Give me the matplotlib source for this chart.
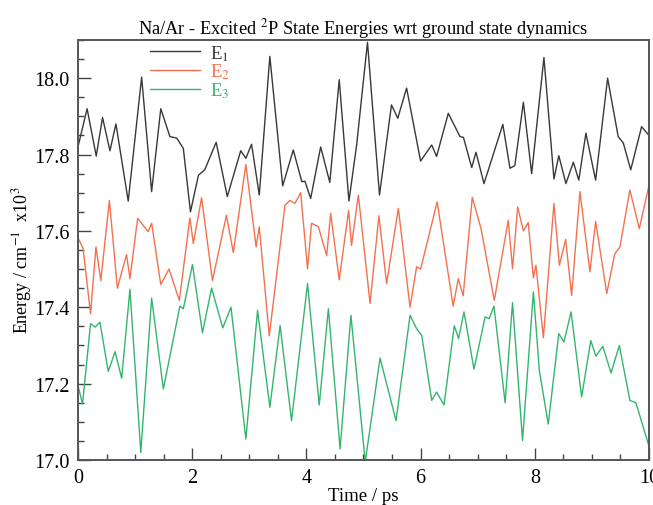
import matplotlib
matplotlib.use('Agg')
import matplotlib.pyplot as plt
from matplotlib.ticker import MultipleLocator

plt.rcParams['font.family'] = ['Liberation Serif', 'DejaVu Serif']
plt.rcParams['mathtext.fontset'] = 'stix'

# E1 (black)
t1 = [0.0, 0.16, 0.32, 0.43, 0.56, 0.665, 0.88, 1.115, 1.29, 1.45, 1.61, 1.73, 1.845, 1.97,
      2.11, 2.22, 2.42, 2.615, 2.85, 2.94, 3.04, 3.175, 3.36, 3.585, 3.77, 3.92, 3.975, 4.075,
      4.25, 4.41, 4.575, 4.745, 4.88, 5.07, 5.28, 5.49, 5.60, 5.755, 6.0, 6.195, 6.28, 6.485,
      6.69, 6.75, 6.895, 6.97, 7.11, 7.44, 7.565, 7.65, 7.80, 7.945, 8.16, 8.335, 8.42, 8.545,
      8.675, 8.77, 8.895, 9.065, 9.275, 9.46, 9.55, 9.68, 9.87, 10.0]
e1 = [17.82, 17.92, 17.796, 17.897, 17.81, 17.88, 17.678, 18.003, 17.703, 17.92, 17.847, 17.843,
      17.816, 17.65, 17.746, 17.76, 17.832, 17.69, 17.81, 17.79, 17.827, 17.694, 18.057, 17.718,
      17.812, 17.729, 17.73, 17.685, 17.82, 17.727, 17.996, 17.678, 17.825, 18.094, 17.694, 17.93,
      17.895, 17.974, 17.783, 17.825, 17.795, 17.908, 17.847, 17.845, 17.766, 17.806, 17.724,
      17.879, 17.764, 17.771, 17.937, 17.75, 18.054, 17.736, 17.797, 17.724, 17.78, 17.733,
      17.856, 17.733, 18.0, 17.847, 17.83, 17.76, 17.873, 17.85]

# E2 (red)
t2 = [0.0, 0.09, 0.22, 0.315, 0.40, 0.55, 0.69, 0.85, 0.91, 1.045, 1.23, 1.29, 1.45, 1.595,
      1.775, 1.96, 2.02, 2.165, 2.355, 2.60, 2.72, 2.94, 3.12, 3.175, 3.35, 3.625, 3.71, 3.80,
      3.90, 4.02, 4.09, 4.21, 4.355, 4.425, 4.575, 4.74, 4.79, 4.91, 5.115, 5.27, 5.405, 5.61,
      5.815, 5.93, 6.0, 6.29, 6.57, 6.66, 6.745, 6.905, 7.06, 7.29, 7.535, 7.61, 7.70, 7.80,
      7.885, 7.975, 8.02, 8.15, 8.335, 8.43, 8.54, 8.645, 8.79, 8.965, 9.065, 9.26, 9.40, 9.49,
      9.665, 9.83, 10.0]
e2 = [17.582, 17.554, 17.383, 17.558, 17.47, 17.68, 17.45, 17.538, 17.475, 17.633, 17.598, 17.62,
      17.46, 17.50, 17.418, 17.634, 17.567, 17.687, 17.47, 17.641, 17.543, 17.774, 17.558, 17.611,
      17.325, 17.667, 17.68, 17.672, 17.70, 17.501, 17.62, 17.611, 17.535, 17.646, 17.472, 17.654,
      17.562, 17.694, 17.41, 17.64, 17.462, 17.659, 17.40, 17.506, 17.50, 17.676, 17.403, 17.475,
      17.43, 17.688, 17.605, 17.418, 17.628, 17.501, 17.663, 17.60, 17.622, 17.477, 17.51, 17.32,
      17.672, 17.51, 17.578, 17.431, 17.703, 17.493, 17.625, 17.436, 17.54, 17.558, 17.707,
      17.606, 17.72]

# E3 (green)
t3 = [0.0, 0.08, 0.22, 0.30, 0.385, 0.53, 0.65, 0.765, 0.91, 1.10, 1.29, 1.495, 1.785, 1.845,
      2.005, 2.18, 2.34, 2.535, 2.68, 2.94, 3.145, 3.36, 3.54, 3.74, 4.02, 4.225, 4.385, 4.59,
      4.78, 5.03, 5.29, 5.57, 5.815, 5.93, 6.02, 6.195, 6.28, 6.41, 6.59, 6.665, 6.76, 6.935,
      7.13, 7.20, 7.285, 7.48, 7.61, 7.785, 7.975, 8.08, 8.235, 8.42, 8.51, 8.635, 8.82, 8.98,
      9.07, 9.19, 9.335, 9.48, 9.665, 9.77, 10.0]
e3 = [17.195, 17.147, 17.357, 17.348, 17.361, 17.232, 17.284, 17.214, 17.447, 17.02, 17.424,
      17.186, 17.403, 17.396, 17.512, 17.333, 17.45, 17.346, 17.40, 17.055, 17.392, 17.138,
      17.352, 17.103, 17.462, 17.144, 17.396, 17.029, 17.379, 16.995, 17.267, 17.103, 17.379,
      17.344, 17.326, 17.156, 17.178, 17.144, 17.352, 17.318, 17.388, 17.238, 17.375, 17.37,
      17.403, 17.15, 17.412, 17.051, 17.44, 17.234, 17.094, 17.331, 17.309, 17.388, 17.165,
      17.313, 17.272, 17.298, 17.228, 17.30, 17.156, 17.15, 17.036]

fig = plt.figure(figsize=(6.53, 5.06), dpi=100)
ax = fig.add_axes([0.1194, 0.0889, 0.8745, 0.8301])

ax.plot(t1, e1, color='#383838', lw=1.0, label='E$_1$')
ax.plot(t2, e2, color='#f4714f', lw=1.0, label='E$_2$')
ax.plot(t3, e3, color='#35b46f', lw=1.0, label='E$_3$')

ax.set_xlim(0, 10)
ax.set_ylim(17.0, 18.1)
ax.xaxis.set_major_locator(MultipleLocator(2))
ax.xaxis.set_minor_locator(MultipleLocator(0.5))
ax.yaxis.set_major_locator(MultipleLocator(0.2))
ax.yaxis.set_minor_locator(MultipleLocator(0.05))
ax.tick_params(which='both', direction='in', top=False, right=False,
               labelsize=14.5, color='#444444', width=1.0)
ax.tick_params(axis='x', pad=6)
ax.tick_params(axis='y', pad=6)
ax.tick_params(which='major', length=9)
ax.tick_params(which='minor', length=4.5)
for s in ax.spines.values():
    s.set_color('#555555')
    s.set_linewidth(1.4)

ax.set_xlabel('Time / ps', fontsize=13.5, labelpad=0)
ax.set_ylabel('Energy / cm$^{-1}$  x10$^3$', fontsize=13)
ax.yaxis.set_label_coords(-0.077, 0.479)
ax.set_title('Na/Ar - Excited $^2$P State Energies wrt ground state dynamics',
             fontsize=13.2, pad=5)

ax.legend(loc='upper left', bbox_to_anchor=(0.097, 1.033), frameon=False, fontsize=13.5,
          handlelength=2.67, handletextpad=0.53, labelspacing=-0.05, labelcolor='linecolor')

plt.savefig('out.png', dpi=100)
